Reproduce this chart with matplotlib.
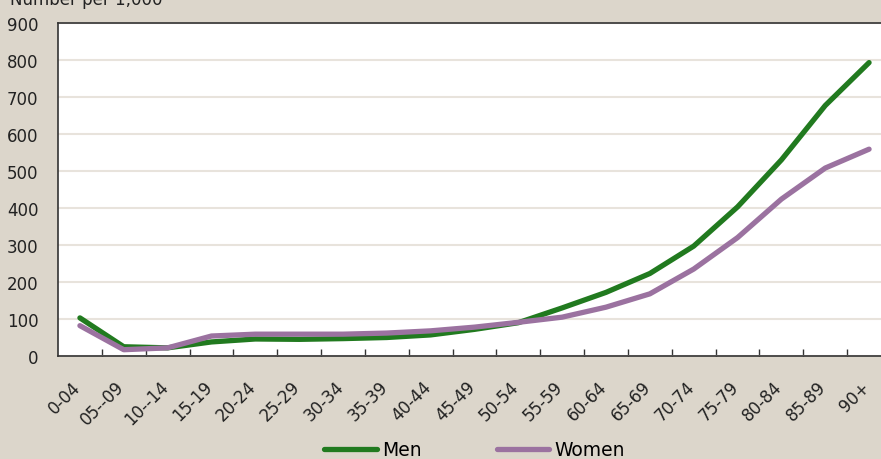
import matplotlib
matplotlib.use("Agg")
import matplotlib.pyplot as plt
import matplotlib.transforms as mtransforms
import numpy as np

categories = ["0-04", "05--09", "10--14", "15-19", "20-24", "25-29", "30-34", "35-39",
              "40-44", "45-49", "50-54", "55-59", "60-64", "65-69", "70-74", "75-79",
              "80-84", "85-89", "90+"]
men = [103, 25, 22, 38, 46, 45, 47, 50, 57, 72, 90, 130, 172, 223, 297, 403, 530, 677, 793]
women = [82, 17, 22, 54, 59, 59, 59, 62, 68, 78, 91, 105, 132, 168, 235, 320, 424, 508, 559]
yticks = [0, 100, 200, 300, 400, 500, 600, 700, 800, 900]
title = "Number per 1,000"

bg = "#DCD6CB"
green = "#217A1F"
purple = "#9B72A0"

plt.rcParams['font.family'] = ['DejaVu Sans']
fig = plt.figure(figsize=(8.81, 4.60), dpi=100, facecolor=bg)
ax = fig.add_axes([58/881, 103/460, 833/881, 333/460])
ax.set_facecolor("white")

x = np.arange(len(categories))
ax.plot(x, men, color=green, lw=3.8, solid_capstyle='round', solid_joinstyle='round', label="Men", zorder=3)
ax.plot(x, women, color=purple, lw=3.8, solid_capstyle='round', solid_joinstyle='round', label="Women", zorder=3)

ax.set_xlim(-0.5, len(categories) - 0.5)
ax.set_ylim(0, 900)
ax.set_yticks(yticks)
ax.set_yticklabels([str(v) for v in yticks], fontsize=12, color="#222222")
ax.tick_params(axis='y', length=0, pad=14)
ax.yaxis.grid(True, color="#E8E3DC", lw=1.5)
ax.set_axisbelow(True)

ax.set_xticks(x)
ax.set_xticklabels(categories, rotation=45, ha='right', va='center', rotation_mode='anchor',
                   fontsize=12, color="#222222")
ax.tick_params(axis='x', length=0, pad=20)
offset = mtransforms.ScaledTranslation(-2/100, 0, fig.dpi_scale_trans)
for lbl in ax.get_xticklabels():
    lbl.set_transform(lbl.get_transform() + offset)
ax.set_xticks(np.arange(len(categories)) + 0.5, minor=True)
ax.tick_params(axis='x', which='minor', direction='in', length=5, width=1, color="#333333")

for s in ['left', 'bottom', 'top']:
    ax.spines[s].set_color("#333333")
    ax.spines[s].set_linewidth(1.2)
ax.spines['right'].set_visible(False)

fig.text(10/881, 1.0, title, fontsize=12, color="#222222", ha='left', va='center')

ax.legend(loc='center', bbox_to_anchor=(0.5, (357 - 451) / 333), ncol=2,
          frameon=False, fontsize=13.5, handlelength=2.8, handletextpad=0.28,
          columnspacing=4.0)

fig.savefig("out.png", dpi=100, facecolor=bg)
